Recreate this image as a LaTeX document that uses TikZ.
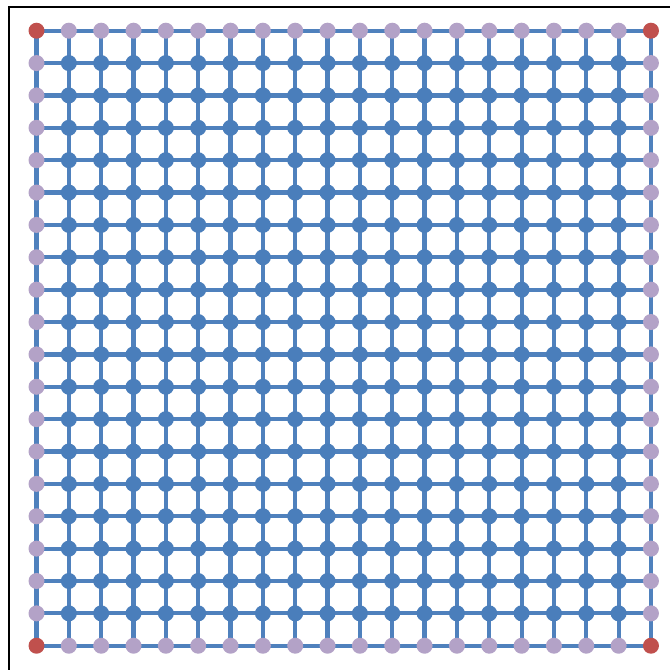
\documentclass[tikz,border=0pt]{standalone}
\usetikzlibrary{backgrounds}
\definecolor{gblue}{RGB}{74,126,187}
\definecolor{gedge}{RGB}{79,129,189}
\definecolor{gpurple}{RGB}{179,162,199}
\definecolor{gred}{RGB}{192,80,77}
\begin{document}
\begin{tikzpicture}[x=1pt,y=-1pt,
  vtx/.style={circle,inner sep=0pt,minimum size=16pt,draw=none},
  innervtx/.style={vtx,fill=gblue},
  sidevtx/.style={vtx,fill=gpurple},
  cornervtx/.style={vtx,fill=gred},
  link/.style={draw=gedge,line width=4.2pt},
  framestyle/.style={draw=black,line width=1.4pt}]
\useasboundingbox (0,0) rectangle (670,670);
\foreach \i in {0,...,19} {
  \foreach \j in {0,...,19} {
    \pgfmathtruncatemacro\b{(\i==0)+(\i==19)+(\j==0)+(\j==19)}
    \ifcase\b \def\st{innervtx}\or \def\st{sidevtx}\else \def\st{cornervtx}\fi
    \node[\st] (n-\i-\j) at ({36.5+\i*32.34},{30.7+\j*32.37}) {};
  }
}
\begin{scope}[on background layer]
\fill[white] (0,0) rectangle (670,670);
\draw[framestyle] (9,670) -- (9,7) -- (670,7);
\foreach \i in {0,...,19} {
  \foreach \j in {0,...,18} {
    \pgfmathtruncatemacro\k{\j+1}
    \draw[link] (n-\i-\j.center) -- (n-\i-\k.center);
    \draw[link] (n-\j-\i.center) -- (n-\k-\i.center);
  }
}
\end{scope}
\end{tikzpicture}
\end{document}
